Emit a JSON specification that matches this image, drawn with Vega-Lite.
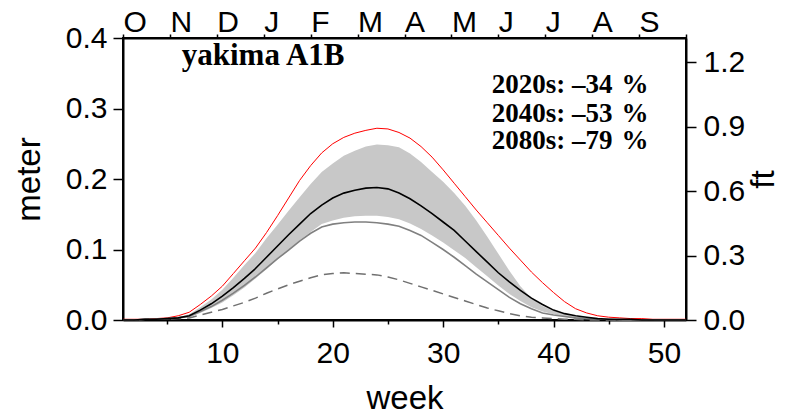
{
  "$schema": "https://vega.github.io/schema/vega-lite/v6.json",
  "width": 563,
  "height": 282,
  "autosize": {"type": "none"},
  "padding": {"left": 123, "top": 38, "right": 112, "bottom": 94},
  "background": "white",
  "config": {
    "view": {"stroke": "#000", "strokeWidth": 2},
    "axis": {
      "grid": false,
      "domainColor": "#000",
      "domainWidth": 2,
      "tickColor": "#000",
      "tickWidth": 1.5,
      "labelColor": "#000",
      "labelFont": "Liberation Sans",
      "labelFontSize": 30,
      "titleFont": "Liberation Sans",
      "titleFontSize": 33,
      "titleFontWeight": "normal",
      "titleColor": "#000",
      "labelFlush": false,
      "labelOverlap": false,
      "labelBound": false
    }
  },
  "datasets": {
    "snow": [
      {"w":1,"red":0.001,"hi":0,"blk":0,"lo":0,"gry":0,"dsh":0},
      {"w":2,"red":0.001,"hi":0,"blk":0,"lo":0,"gry":0,"dsh":0},
      {"w":3,"red":0.001,"hi":0.001,"blk":0.001,"lo":0,"gry":0.001,"dsh":0.001},
      {"w":4,"red":0.002,"hi":0.001,"blk":0.001,"lo":0.001,"gry":0.001,"dsh":0.001},
      {"w":5,"red":0.003,"hi":0.002,"blk":0.002,"lo":0.001,"gry":0.002,"dsh":0.001},
      {"w":6,"red":0.006,"hi":0.004,"blk":0.003,"lo":0.002,"gry":0.003,"dsh":0.002},
      {"w":7,"red":0.011,"hi":0.008,"blk":0.006,"lo":0.004,"gry":0.005,"dsh":0.003},
      {"w":8,"red":0.022,"hi":0.018,"blk":0.014,"lo":0.010,"gry":0.012,"dsh":0.007},
      {"w":9,"red":0.034,"hi":0.029,"blk":0.023,"lo":0.017,"gry":0.019,"dsh":0.011},
      {"w":10,"red":0.048,"hi":0.043,"blk":0.034,"lo":0.025,"gry":0.028,"dsh":0.015},
      {"w":11,"red":0.066,"hi":0.060,"blk":0.046,"lo":0.035,"gry":0.038,"dsh":0.020},
      {"w":12,"red":0.084,"hi":0.078,"blk":0.059,"lo":0.046,"gry":0.049,"dsh":0.025},
      {"w":13,"red":0.102,"hi":0.095,"blk":0.073,"lo":0.059,"gry":0.061,"dsh":0.031},
      {"w":14,"red":0.124,"hi":0.116,"blk":0.089,"lo":0.072,"gry":0.074,"dsh":0.038},
      {"w":15,"red":0.148,"hi":0.135,"blk":0.105,"lo":0.086,"gry":0.087,"dsh":0.044},
      {"w":16,"red":0.173,"hi":0.155,"blk":0.121,"lo":0.099,"gry":0.099,"dsh":0.050},
      {"w":17,"red":0.198,"hi":0.174,"blk":0.136,"lo":0.113,"gry":0.112,"dsh":0.055},
      {"w":18,"red":0.219,"hi":0.193,"blk":0.151,"lo":0.125,"gry":0.123,"dsh":0.060},
      {"w":19,"red":0.237,"hi":0.210,"blk":0.163,"lo":0.136,"gry":0.132,"dsh":0.064},
      {"w":20,"red":0.250,"hi":0.222,"blk":0.173,"lo":0.141,"gry":0.136,"dsh":0.066},
      {"w":21,"red":0.259,"hi":0.233,"blk":0.180,"lo":0.145,"gry":0.138,"dsh":0.067},
      {"w":22,"red":0.265,"hi":0.240,"blk":0.184,"lo":0.147,"gry":0.139,"dsh":0.066},
      {"w":23,"red":0.269,"hi":0.246,"blk":0.187,"lo":0.148,"gry":0.139,"dsh":0.065},
      {"w":24,"red":0.272,"hi":0.249,"blk":0.188,"lo":0.148,"gry":0.138,"dsh":0.064},
      {"w":25,"red":0.271,"hi":0.248,"blk":0.186,"lo":0.146,"gry":0.136,"dsh":0.061},
      {"w":26,"red":0.266,"hi":0.245,"blk":0.180,"lo":0.143,"gry":0.133,"dsh":0.057},
      {"w":27,"red":0.258,"hi":0.236,"blk":0.172,"lo":0.137,"gry":0.127,"dsh":0.052},
      {"w":28,"red":0.246,"hi":0.224,"blk":0.162,"lo":0.129,"gry":0.120,"dsh":0.047},
      {"w":29,"red":0.231,"hi":0.210,"blk":0.151,"lo":0.120,"gry":0.110,"dsh":0.042},
      {"w":30,"red":0.213,"hi":0.196,"blk":0.139,"lo":0.110,"gry":0.100,"dsh":0.037},
      {"w":31,"red":0.194,"hi":0.180,"blk":0.127,"lo":0.099,"gry":0.089,"dsh":0.032},
      {"w":32,"red":0.175,"hi":0.162,"blk":0.112,"lo":0.088,"gry":0.077,"dsh":0.027},
      {"w":33,"red":0.156,"hi":0.141,"blk":0.097,"lo":0.075,"gry":0.065,"dsh":0.022},
      {"w":34,"red":0.138,"hi":0.118,"blk":0.082,"lo":0.062,"gry":0.054,"dsh":0.017},
      {"w":35,"red":0.120,"hi":0.094,"blk":0.067,"lo":0.049,"gry":0.043,"dsh":0.013},
      {"w":36,"red":0.102,"hi":0.070,"blk":0.054,"lo":0.037,"gry":0.032,"dsh":0.009},
      {"w":37,"red":0.085,"hi":0.048,"blk":0.042,"lo":0.027,"gry":0.023,"dsh":0.006},
      {"w":38,"red":0.068,"hi":0.031,"blk":0.031,"lo":0.018,"gry":0.016,"dsh":0.004},
      {"w":39,"red":0.053,"hi":0.020,"blk":0.022,"lo":0.012,"gry":0.010,"dsh":0.003},
      {"w":40,"red":0.039,"hi":0.013,"blk":0.014,"lo":0.008,"gry":0.007,"dsh":0.002},
      {"w":41,"red":0.026,"hi":0.008,"blk":0.009,"lo":0.005,"gry":0.005,"dsh":0.001},
      {"w":42,"red":0.016,"hi":0.005,"blk":0.006,"lo":0.003,"gry":0.003,"dsh":0.001},
      {"w":43,"red":0.010,"hi":0.003,"blk":0.004,"lo":0.002,"gry":0.002,"dsh":0},
      {"w":44,"red":0.006,"hi":0.002,"blk":0.002,"lo":0.001,"gry":0.001,"dsh":0},
      {"w":45,"red":0.004,"hi":0.001,"blk":0.001,"lo":0,"gry":0.001,"dsh":0},
      {"w":46,"red":0.003,"hi":0.001,"blk":0.001,"lo":0,"gry":0,"dsh":0},
      {"w":47,"red":0.002,"hi":0,"blk":0.001,"lo":0,"gry":0,"dsh":0},
      {"w":48,"red":0.002,"hi":0,"blk":0,"lo":0,"gry":0,"dsh":0},
      {"w":49,"red":0.001,"hi":0,"blk":0,"lo":0,"gry":0,"dsh":0},
      {"w":50,"red":0.001,"hi":0,"blk":0,"lo":0,"gry":0,"dsh":0},
      {"w":51,"red":0.001,"hi":0,"blk":0,"lo":0,"gry":0,"dsh":0},
      {"w":52,"red":0.001,"hi":0,"blk":0,"lo":0,"gry":0,"dsh":0}
    ],
    "title": [{"x": 6.32, "y": 0.3621, "t": "yakima A1B"}],
    "notes": [
      {"x": 34.4, "y": 0.3216, "t": "2020s: –34 \u200a%"},
      {"x": 34.4, "y": 0.2813, "t": "2040s: –53 \u200a%"},
      {"x": 34.4, "y": 0.2421, "t": "2080s: –79 \u200a%"}
    ],
    "meterTicks": [{"v": 0}, {"v": 0.1}, {"v": 0.2}, {"v": 0.3}, {"v": 0.4}],
    "ftTicks": [{"f": 0}, {"f": 0.3}, {"f": 0.6}, {"f": 0.9}, {"f": 1.2}],
    "weekTicks": [{"w": 10}, {"w": 20}, {"w": 30}, {"w": 40}, {"w": 50}],
    "minorTicks": [{"w": 5}, {"w": 15}, {"w": 25}, {"w": 35}, {"w": 45}],
    "months": [{"m": 0}, {"m": 1}, {"m": 2}, {"m": 3}, {"m": 4}, {"m": 5}, {"m": 6}, {"m": 7}, {"m": 8}, {"m": 9}, {"m": 10}, {"m": 11}, {"m": 12}]
  },
  "resolve": {"scale": {"x": "independent", "y": "independent"}},
  "layer": [
    {
      "layer": [
        {
          "data": {"name": "snow"},
          "mark": {"type": "area", "color": "#c8c8c8", "opacity": 1},
          "encoding": {
            "x": {"field": "w", "type": "quantitative", "scale": {"domain": [1, 52], "nice": false, "zero": false}, "axis": null},
            "y": {"field": "hi", "type": "quantitative", "scale": {"domain": [0, 0.4], "nice": false}, "axis": null},
            "y2": {"field": "lo"}
          }
        },
        {
          "data": {"name": "snow"},
          "mark": {"type": "line", "color": "#ff0000", "strokeWidth": 1},
          "encoding": {
            "x": {"field": "w", "type": "quantitative", "scale": {"domain": [1, 52], "nice": false, "zero": false}, "axis": null},
            "y": {"field": "red", "type": "quantitative", "scale": {"domain": [0, 0.4], "nice": false}, "axis": null}
          }
        },
        {
          "data": {"name": "snow"},
          "mark": {"type": "line", "color": "#808080", "strokeWidth": 1.6},
          "encoding": {
            "x": {"field": "w", "type": "quantitative", "scale": {"domain": [1, 52], "nice": false, "zero": false}, "axis": null},
            "y": {"field": "gry", "type": "quantitative", "scale": {"domain": [0, 0.4], "nice": false}, "axis": null}
          }
        },
        {
          "data": {"name": "snow"},
          "mark": {"type": "line", "color": "#707070", "strokeWidth": 1.5, "strokeDash": [10, 6]},
          "encoding": {
            "x": {"field": "w", "type": "quantitative", "scale": {"domain": [1, 52], "nice": false, "zero": false}, "axis": null},
            "y": {"field": "dsh", "type": "quantitative", "scale": {"domain": [0, 0.4], "nice": false}, "axis": null}
          }
        },
        {
          "data": {"name": "snow"},
          "mark": {"type": "line", "color": "#000000", "strokeWidth": 1.6},
          "encoding": {
            "x": {"field": "w", "type": "quantitative", "scale": {"domain": [1, 52], "nice": false, "zero": false}, "axis": null},
            "y": {"field": "blk", "type": "quantitative", "scale": {"domain": [0, 0.4], "nice": false}, "axis": null}
          }
        },
        {
          "data": {"name": "title"},
          "mark": {"type": "text", "font": "Liberation Serif", "fontWeight": "bold", "fontSize": 31, "align": "left", "baseline": "alphabetic", "color": "#000"},
          "encoding": {
            "x": {"field": "x", "type": "quantitative", "scale": {"domain": [1, 52], "nice": false, "zero": false}, "axis": null},
            "y": {"field": "y", "type": "quantitative", "scale": {"domain": [0, 0.4], "nice": false}, "axis": null},
            "text": {"field": "t"}
          }
        },
        {
          "data": {"name": "notes"},
          "mark": {"type": "text", "font": "Liberation Serif", "fontWeight": "bold", "fontSize": 27, "align": "left", "baseline": "alphabetic", "color": "#000"},
          "encoding": {
            "x": {"field": "x", "type": "quantitative", "scale": {"domain": [1, 52], "nice": false, "zero": false}, "axis": null},
            "y": {"field": "y", "type": "quantitative", "scale": {"domain": [0, 0.4], "nice": false}, "axis": null},
            "text": {"field": "t"}
          }
        }
      ]
    },
    {
      "data": {"name": "meterTicks"},
      "mark": {"type": "point", "opacity": 0},
      "encoding": {
        "y": {"field": "v", "type": "quantitative", "scale": {"domain": [0, 0.4], "nice": false},
          "axis": {"orient": "left", "values": [0, 0.1, 0.2, 0.3, 0.4], "format": ".1f", "tickSize": 10, "labelPadding": 6, "title": "meter", "titlePadding": 19}}
      }
    },
    {
      "data": {"name": "ftTicks"},
      "mark": {"type": "point", "opacity": 0},
      "encoding": {
        "y": {"field": "f", "type": "quantitative", "scale": {"domain": [0, 1.31234], "nice": false},
          "axis": {"orient": "right", "values": [0, 0.3, 0.6, 0.9, 1.2], "format": ".1f", "tickSize": 10, "labelPadding": 7, "title": "ft", "titleAngle": 270, "titleBaseline": "top", "titlePadding": 3}}
      }
    },
    {
      "data": {"name": "weekTicks"},
      "mark": {"type": "point", "opacity": 0},
      "encoding": {
        "x": {"field": "w", "type": "quantitative", "scale": {"domain": [1, 52], "nice": false, "zero": false},
          "axis": {"orient": "bottom", "values": [10, 20, 30, 40, 50], "tickSize": 7, "labelPadding": 11, "title": "week", "titlePadding": 14}}
      }
    },
    {
      "data": {"name": "minorTicks"},
      "mark": {"type": "point", "opacity": 0},
      "encoding": {
        "x": {"field": "w", "type": "quantitative", "scale": {"domain": [1, 52], "nice": false, "zero": false},
          "axis": {"orient": "bottom", "values": [5, 15, 25, 35, 45], "tickSize": 4, "labels": false, "domain": false, "title": null}}
      }
    },
    {
      "data": {"name": "months"},
      "mark": {"type": "point", "opacity": 0},
      "encoding": {
        "x": {"field": "m", "type": "quantitative", "scale": {"domain": [0, 12], "nice": false, "zero": false},
          "axis": {"orient": "top", "values": [0, 1, 2, 3, 4, 5, 6, 7, 8, 9, 10, 11, 12], "tickSize": 4, "labelPadding": 3, "labelBaseline": "alphabetic", "labelAlign": "left", "labelExpr": "datum.value < 12 ? ['O','N','D','J','F','M','A','M','J','J','A','S'][datum.value] : ''", "title": null}}
      }
    }
  ]
}
